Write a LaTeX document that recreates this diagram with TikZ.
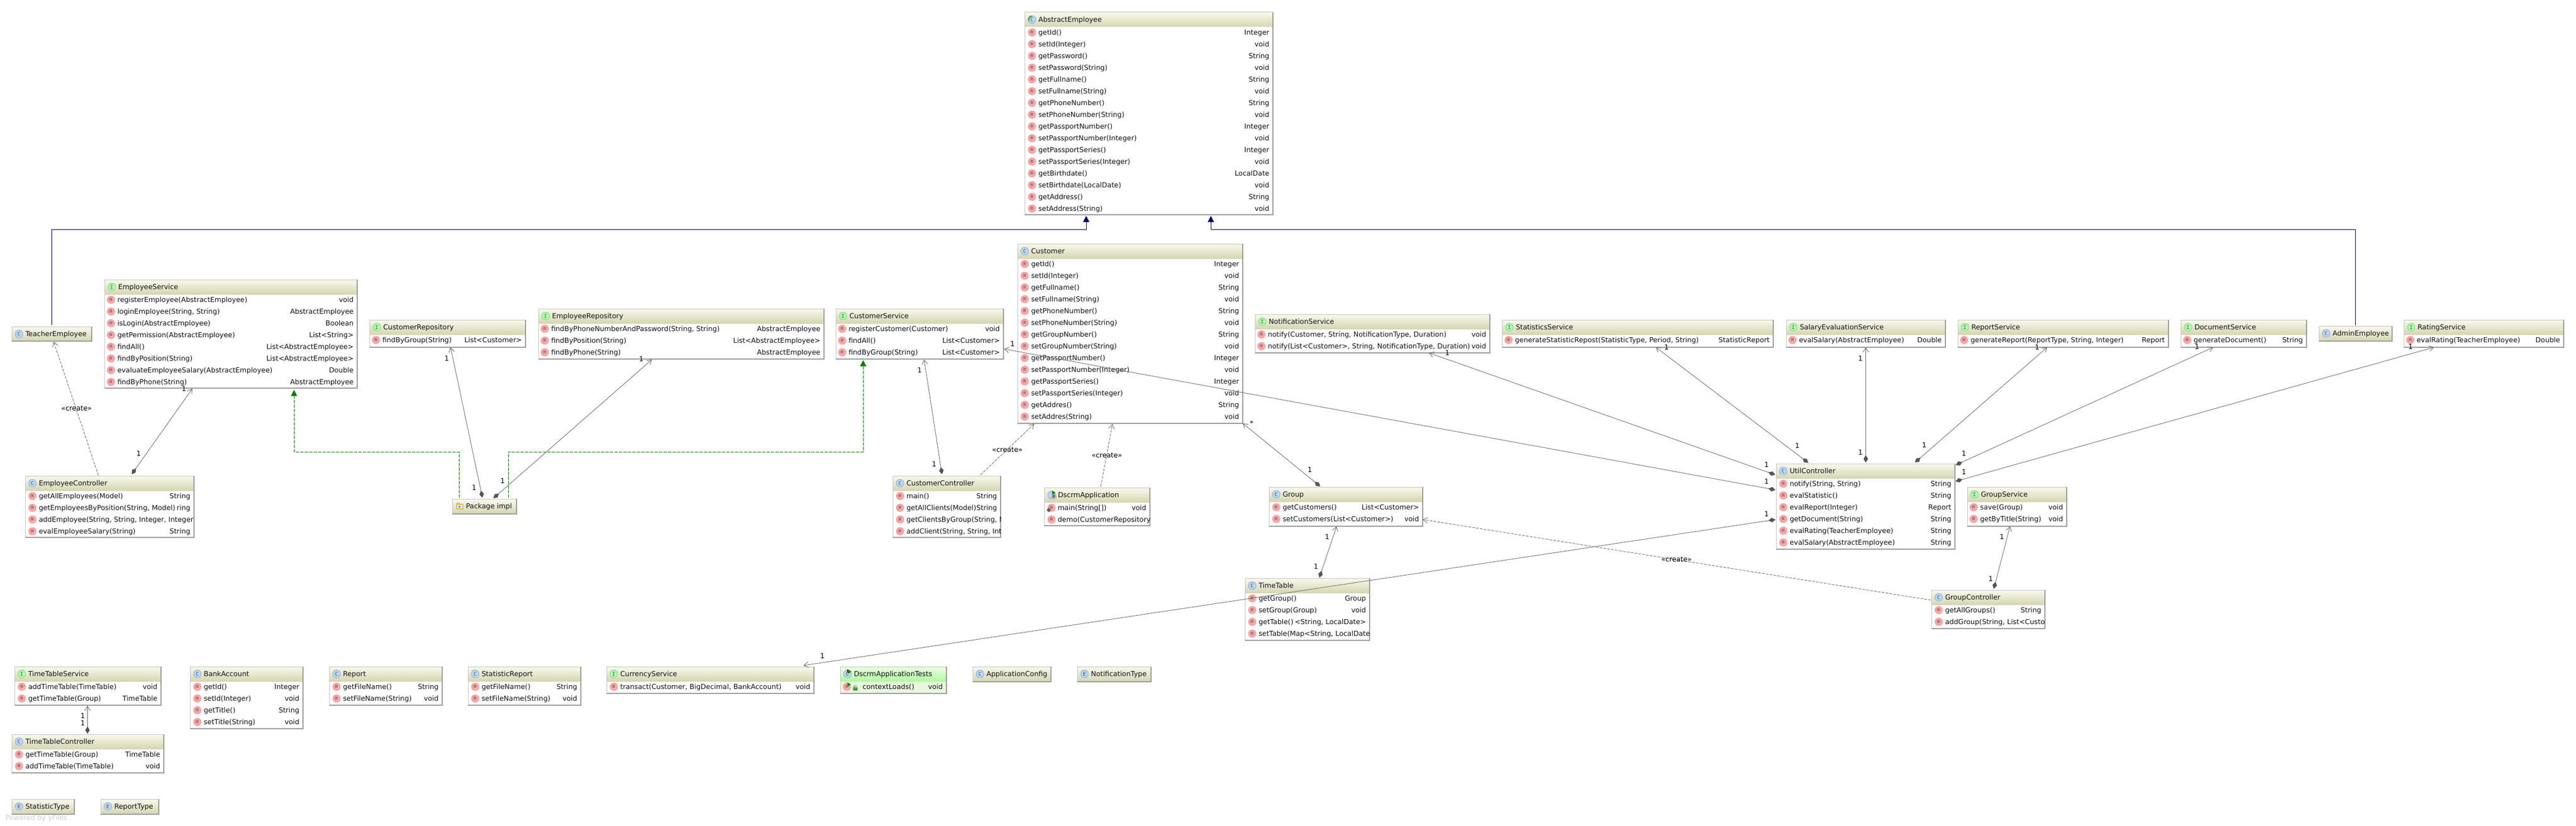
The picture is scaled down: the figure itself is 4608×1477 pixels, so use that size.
\documentclass[tikz,border=0pt]{standalone}
\usepackage{fontspec}
\setmainfont{DejaVu Sans}
\newfontfamily\icofont{DejaVu Sans Mono}
\usetikzlibrary{arrows.meta,calc}
\definecolor{hdtop}{HTML}{F9F9EC}
\definecolor{hdbot}{HTML}{D6D6B2}
\definecolor{frlight}{HTML}{C4C4C4}
\definecolor{frdark}{HTML}{9C9C9C}
\definecolor{txt}{HTML}{101018}
\definecolor{lnk}{HTML}{6A6A6A}
\definecolor{dia}{HTML}{555555}
\definecolor{inhc}{HTML}{000080}
\definecolor{impc}{HTML}{008000}
\definecolor{tsttop}{HTML}{ECFFE4}
\definecolor{tstbot}{HTML}{B0F8A0}
\definecolor{tstbody}{HTML}{E8F8DC}
\tikzset{
  x=1pt,y=-1pt,
  boxframe/.style={fill=white,draw=none,rectangle,inner sep=0pt,outer sep=0pt},
  rowtxt/.style={inner sep=0pt,outer sep=0pt,text=txt,font=\fontsize{12.4}{15}\selectfont},
  lbl/.style={inner sep=0pt,outer sep=0pt,text=black,font=\fontsize{12.4}{15}\selectfont},
  ico/.style={circle,inner sep=0pt,outer sep=0pt,minimum size=14pt,line width=.8pt,text=black!75,font=\icofont\fontsize{8.5}{8.5}\selectfont},
  icoclass/.style={ico,draw=blue!30!cyan!50!black!45,inner color=cyan!20!blue!20,outer color=cyan!45!blue!32},
  icoiface/.style={ico,draw=green!50!black!40,inner color=green!22,outer color=green!42},
  icometh/.style={ico,draw=red!30,inner color=red!25,outer color=red!42},
  assocline/.style={line width=.85pt,draw=lnk,{Diamond[length=13pt,width=8pt,fill=dia,color=dia]}-{Straight Barb[length=8pt,width=10pt]}},
  depline/.style={line width=.85pt,draw=lnk,dash pattern=on 5pt off 2pt,-{Straight Barb[length=8pt,width=10pt]}},
  inhline/.style={line width=.9pt,draw=inhc,-{Triangle[length=11pt,width=11pt,fill=inhc,color=inhc]}},
  implline/.style={line width=.85pt,draw=impc,dash pattern=on 6pt off 2pt,-{Triangle[length=11pt,width=11pt,fill=impc,color=impc]}},
}
% header icons: name, x, y
\newcommand{\icoC}[3]{\node[icoclass] (#1) at (#2,#3) {C};}
\newcommand{\icoI}[3]{\node[icoiface] (#1) at (#2,#3) {I};}
\newcommand{\icoE}[3]{\node[icoclass] (#1) at (#2,#3) {E};}
\newcommand{\icoA}[3]{\node[icoclass] (#1) at (#2,#3) {C};
  \draw[line width=2pt,color=green!60!black!85] ($(#2,#3)+(0,-6)$) arc[start angle=90,end angle=205,radius=6pt];}
\newcommand{\playmark}[2]{\fill[green!55!black] (#1+1,#2-8) -- (#1+7,#2-4) -- (#1+1,#2) -- cycle;}
\newcommand{\icoD}[3]{\node[icoclass] (#1) at (#2,#3) {};
  \playmark{#2}{#3}
  \node[circle,inner sep=0pt,minimum size=9pt,fill=gray!55,draw=gray!75,text=black,font=\icofont\fontsize{6.5}{6.5}\selectfont] (#1-at) at (#2+4,#3+3) {@};}
\newcommand{\icoT}[3]{\node[icoclass] (#1) at (#2,#3) {C};
  \fill[red!75!black] (#2-1,#3-8) -- (#2+1,#3-8) -- (#2+1,#3-2) -- (#2-1,#3-2) -- cycle;
  \playmark{#2}{#3}}
\newcommand{\icoP}[3]{%
  \fill[brown!70!yellow!75] (#2-6,#3-6) rectangle (#2+1,#3-3);
  \fill[brown!70!yellow!75] (#2-6,#3-4) rectangle (#2+7,#3+6);
  \fill[white] (#2-4,#3-2) rectangle (#2+5,#3+4);
  \fill[cyan!60!blue!70] (#2,#3+1) circle[radius=2pt];}
% box: name x0 y0 x1 y1 kind title
\newcommand{\umlbox}[7]{%
  \node[boxframe,minimum width={(#4-#2)*1pt},minimum height={(#5-#3)*1pt}] (#1) at ({(#2+#4)/2},{(#3+#5)/2}) {};
  \pgfmathsetmacro{\hdbottom}{min(#5,#3+26)}
  \shade[top color=hdtop,bottom color=hdbot] (#2,#3) rectangle (#4,\hdbottom);
  \csname ico#6\endcsname{#1-icon}{#2+13}{#3+13}
  \node[rowtxt,anchor=base west] (#1-title) at (#2+24.5,#3+17.5) {#7};
  \draw[frlight,line width=1pt] (#1.south west) -- (#1.north west) -- (#1.north east);
  \draw[frdark,line width=1.3pt] (#1.north east) -- (#1.south east) -- (#1.south west);
}
% rows: name x0 y0 x1 y1 iconoffset textoffset list
\newcommand{\umlrows}[8]{%
  \begin{scope}
  \clip (#2,#3) rectangle (#4,#5);
  \foreach \rowL/\rowR [count=\rowI] in {#8} {
    \pgfmathsetmacro{\rowY}{#3+40.5+21*(\rowI-1)}
    \pgfmathsetmacro{\rowC}{#3+36+21*(\rowI-1)}
    \node[icometh] (#1-m\rowI) at (#2+#6,\rowC) {m};
    \node[rowtxt,anchor=base west] (#1-l\rowI) at (#2+#7,\rowY) {\rowL};
    \node[rowtxt,anchor=base east] (#1-r\rowI) at (#4-6.5,\rowY) {\rowR};
  }
  \end{scope}
}
\begin{document}
\begin{tikzpicture}
\useasboundingbox (0,0) rectangle (4608,1477);
\fill[white] (0,0) rectangle (4608,1477);

\umlbox{ae}{1833}{22}{2277}{384}{A}{AbstractEmployee}
\umlrows{ae}{1833}{22}{2277}{384}{13}{24.5}{getId()/Integer,{setId(Integer)}/void,getPassword()/String,{setPassword(String)}/void,getFullname()/String,{setFullname(String)}/void,getPhoneNumber()/String,{setPhoneNumber(String)}/void,getPassportNumber()/Integer,{setPassportNumber(Integer)}/void,getPassportSeries()/Integer,{setPassportSeries(Integer)}/void,getBirthdate()/LocalDate,{setBirthdate(LocalDate)}/void,getAddress()/String,{setAddress(String)}/void}

\umlbox{te}{21}{584}{164}{610}{C}{TeacherEmployee}

\umlbox{es}{187}{500}{639}{694}{I}{EmployeeService}
\umlrows{es}{187}{500}{639}{694}{11.5}{23}{{registerEmployee(AbstractEmployee)}/void,{loginEmployee(String, String)}/AbstractEmployee,{isLogin(AbstractEmployee)}/Boolean,{getPermission(AbstractEmployee)}/{List<String>},findAll()/{List<AbstractEmployee>},{findByPosition(String)}/{List<AbstractEmployee>},{evaluateEmployeeSalary(AbstractEmployee)}/Double,{findByPhone(String)}/AbstractEmployee}

\umlbox{ec}{45}{851}{347}{961}{C}{EmployeeController}
\umlrows{ec}{45}{851}{347}{961}{13}{24.5}{{getAllEmployees(Model)}/String,{getEmployeesByPosition(String, Model)}/{ring},{addEmployee(String, String, Integer, Integer}/{},{evalEmployeeSalary(String)}/String}

\umlbox{crepo}{661}{572}{940}{621}{I}{CustomerRepository}
\umlrows{crepo}{661}{572}{940}{621}{11.5}{23}{{findByGroup(String)}/{List<Customer>}}

\umlbox{erepo}{963}{552}{1474}{642}{I}{EmployeeRepository}
\umlrows{erepo}{963}{552}{1474}{642}{11.5}{23}{{findByPhoneNumberAndPassword(String, String)}/AbstractEmployee,{findByPosition(String)}/{List<AbstractEmployee>},{findByPhone(String)}/AbstractEmployee}

\umlbox{pkg}{809}{892}{924}{919}{P}{Package impl}

\umlbox{cs}{1495}{552}{1795}{642}{I}{CustomerService}
\umlrows{cs}{1495}{552}{1795}{642}{11.5}{23}{{registerCustomer(Customer)}/void,findAll()/{List<Customer>},{findByGroup(String)}/{List<Customer>}}

\umlbox{cust}{1820}{436}{2223}{757}{C}{Customer}
\umlrows{cust}{1820}{436}{2223}{757}{13}{24.5}{getId()/Integer,{setId(Integer)}/void,getFullname()/String,{setFullname(String)}/void,getPhoneNumber()/String,{setPhoneNumber(String)}/void,getGroupNumber()/String,{setGroupNumber(String)}/void,getPassportNumber()/Integer,{setPassportNumber(Integer)}/void,getPassportSeries()/Integer,{setPassportSeries(Integer)}/void,getAddres()/String,{setAddres(String)}/void}

\umlbox{cc}{1597}{851}{1790}{961}{C}{CustomerController}
\umlrows{cc}{1597}{851}{1790}{961}{13}{24.5}{main()/String,{getAllClients(Model)}/String,{getClientsByGroup(String, M}/{},{addClient(String, String, Int}/{}}

\umlbox{da}{1868}{872}{2057}{940}{D}{DscrmApplication}
\umlrows{da}{1868}{872}{2057}{940}{13}{24}{{main(String[])}/void,{demo(CustomerRepository}/{}}
\fill[gray!75!black] (1876,908) -- (1880,912) -- (1876,916) -- (1872,912) -- cycle;

\umlbox{ns}{2245}{562}{2665}{631}{I}{NotificationService}
\umlrows{ns}{2245}{562}{2665}{631}{11.5}{23}{{notify(Customer, String, NotificationType, Duration)}/void,{notify(List<Customer>, String, NotificationType, Duration)}/void}

\umlbox{ss}{2687}{572}{3172}{621}{I}{StatisticsService}
\umlrows{ss}{2687}{572}{3172}{621}{11.5}{23}{{generateStatisticRepost(StatisticType, Period, String)}/StatisticReport}

\umlbox{ses}{3195}{572}{3480}{621}{I}{SalaryEvaluationService}
\umlrows{ses}{3195}{572}{3480}{621}{11.5}{23}{{evalSalary(AbstractEmployee)}/Double}

\umlbox{rs}{3502}{572}{3879}{621}{I}{ReportService}
\umlrows{rs}{3502}{572}{3879}{621}{11.5}{23}{{generateReport(ReportType, String, Integer)}/Report}

\umlbox{ds}{3901}{572}{4126}{621}{I}{DocumentService}
\umlrows{ds}{3901}{572}{4126}{621}{11.5}{23}{generateDocument()/String}

\umlbox{adm}{4148}{583}{4279}{610}{C}{AdminEmployee}

\umlbox{rat}{4300}{572}{4586}{621}{I}{RatingService}
\umlrows{rat}{4300}{572}{4586}{621}{11.5}{23}{{evalRating(TeacherEmployee)}/Double}

\umlbox{uc}{3177}{829}{3497}{982}{C}{UtilController}
\umlrows{uc}{3177}{829}{3497}{982}{13}{24.5}{{notify(String, String)}/String,evalStatistic()/String,{evalReport(Integer)}/Report,{getDocument(String)}/String,{evalRating(TeacherEmployee)}/String,{evalSalary(AbstractEmployee)}/String}

\umlbox{grp}{2270}{871}{2545}{941}{C}{Group}
\umlrows{grp}{2270}{871}{2545}{941}{13}{24.5}{getCustomers()/{List<Customer>},{setCustomers(List<Customer>)}/void}

\umlbox{gs}{3519}{871}{3697}{941}{I}{GroupService}
\umlrows{gs}{3519}{871}{3697}{941}{11.5}{23}{{save(Group)}/void,{getByTitle(String)}/void}

\umlbox{gc}{3455}{1055}{3658}{1124}{C}{GroupController}
\umlrows{gc}{3455}{1055}{3658}{1124}{13}{24.5}{getAllGroups()/String,{addGroup(String, List<Custo}/{}}

\umlbox{tt}{2227}{1034}{2450}{1145}{C}{TimeTable}
\umlrows{tt}{2227}{1034}{2450}{1145}{13}{24.5}{getGroup()/Group,{setGroup(Group)}/void,getTable()/{<String, LocalDate>},{setTable(Map<String, LocalDate}/{}}

\umlbox{tts}{26}{1192}{288}{1261}{I}{TimeTableService}
\umlrows{tts}{26}{1192}{288}{1261}{13}{24.5}{{addTimeTable(TimeTable)}/void,{getTimeTable(Group)}/TimeTable}

\umlbox{ba}{340}{1192}{542}{1303}{C}{BankAccount}
\umlrows{ba}{340}{1192}{542}{1303}{13}{24.5}{getId()/Integer,{setId(Integer)}/void,getTitle()/String,{setTitle(String)}/void}

\umlbox{rep}{589}{1192}{791}{1261}{C}{Report}
\umlrows{rep}{589}{1192}{791}{1261}{13}{24.5}{getFileName()/String,{setFileName(String)}/void}

\umlbox{sr}{837}{1192}{1039}{1261}{C}{StatisticReport}
\umlrows{sr}{837}{1192}{1039}{1261}{13}{24.5}{getFileName()/String,{setFileName(String)}/void}

\umlbox{cur}{1085}{1192}{1456}{1240}{I}{CurrencyService}
\umlrows{cur}{1085}{1192}{1456}{1240}{13}{24.5}{{transact(Customer, BigDecimal, BankAccount)}/void}

% test class: green variant
\node[boxframe,fill=tstbody,minimum width=190pt,minimum height=48pt] (tests) at (1598,1216) {};
\shade[top color=tsttop,bottom color=tstbot] (1503,1192) rectangle (1693,1218);
\icoT{tests-icon}{1516}{1205}
\node[rowtxt,anchor=base west] (tests-title) at (1527.5,1209.5) {DscrmApplicationTests};
\node[icometh] (tests-m1) at (1515,1228) {m};
\playmark{1515}{1228}
\fill[green!45!black!70] (1526,1229) rectangle (1534,1235);
\draw[green!45!black!70,line width=1pt] (1527.5,1229) -- (1527.5,1226) -- (1532.5,1226);
\node[rowtxt,anchor=base west] (tests-l1) at (1543,1232.5) {contextLoads()};
\node[rowtxt,anchor=base east] (tests-r1) at (1686.5,1232.5) {void};
\draw[frlight,line width=1pt] (tests.south west) -- (tests.north west) -- (tests.north east);
\draw[frdark,line width=1.3pt] (tests.north east) -- (tests.south east) -- (tests.south west);

\umlbox{cfg}{1740}{1192}{1880}{1219}{C}{ApplicationConfig}
\umlbox{nt}{1927}{1192}{2059}{1219}{E}{NotificationType}

\umlbox{ttc}{21}{1313}{293}{1382}{C}{TimeTableController}
\umlrows{ttc}{21}{1313}{293}{1382}{13}{24.5}{{getTimeTable(Group)}/TimeTable,{addTimeTable(TimeTable)}/void}

\umlbox{st}{21}{1429}{133}{1456}{E}{StatisticType}
\umlbox{rt}{180}{1429}{284}{1456}{E}{ReportType}

\node[anchor=base west,inner sep=0pt,text=gray!38,font=\fontsize{12.4}{15}\selectfont] (yf) at (10,1466) {Powered by yFiles};

% inheritance
\coordinate (inhR) at (2166,410);
\coordinate (inhL) at (1943,410);
\draw[inhline] ([shift={(65,-1)}]adm.north west) |- (inhR) -- ([shift={(333,364)}]ae.north west);
\draw[inhline] ([shift={(71,-3)}]te.north west) |- (inhL) -- ([shift={(110,364)}]ae.north west);

% realisation
\coordinate (impL) at (526,808);
\coordinate (impR) at (1544,808);
\draw[implline] ([shift={(12,-2)}]pkg.north west) |- (impL) -- ([shift={(339,197)}]es.north west);
\draw[implline] ([shift={(100,-2)}]pkg.north west) |- (impR) -- ([shift={(49,92)}]cs.north west);

% associations
\draw[assocline] ([shift={(190.6,-3)}]ec.north west) -- ([shift={(157,195)}]es.north west);
\draw[assocline] ([shift={(54,-2)}]pkg.north west) -- ([shift={(145,49)}]crepo.north west);
\draw[assocline] ([shift={(73.5,-1)}]pkg.north west) -- ([shift={(203,91)}]erepo.north west);
\draw[assocline] ([shift={(88,-3)}]cc.north west) -- ([shift={(158,91)}]cs.north west);
\draw[assocline] ([shift={(91.7,-1.2)}]grp.north west) -- ([shift={(403,321)}]cust.north west);
\draw[assocline] ([shift={(-1.4,20)}]uc.north west) -- ([shift={(311,69)}]ns.north west);
\draw[assocline] ([shift={(57.8,-1.4)}]uc.north west) -- ([shift={(275,49)}]ss.north west);
\draw[assocline] ([shift={(-1,47)}]uc.north west) -- ([shift={(301,72)}]cs.north west);
\draw[assocline] ([shift={(-1,100)}]uc.north west) -- ([shift={(352,-2)}]cur.north west);
\draw[assocline] ([shift={(160.5,-2)}]uc.north west) -- ([shift={(142.5,49)}]ses.north west);
\draw[assocline] ([shift={(248.5,-2)}]uc.north west) -- ([shift={(160,49)}]rs.north west);
\draw[assocline] ([shift={(321.5,2.5)}]uc.north west) -- ([shift={(58,49)}]ds.north west);
\draw[assocline] ([shift={(321,31.6)}]uc.north west) -- ([shift={(54,49)}]rat.north west);
\draw[assocline] ([shift={(111.5,-2)}]gc.north west) -- ([shift={(76.5,70)}]gs.north west);
\draw[assocline] ([shift={(133,-1)}]tt.north west) -- ([shift={(121,70)}]grp.north west);
\draw[assocline] ([shift={(135.5,-1)}]ttc.north west) -- ([shift={(130.5,70)}]tts.north west);

% dependencies
\draw[depline] ([shift={(131,-1)}]ec.north west) -- ([shift={(75,27)}]te.north west);
\draw[depline] ([shift={(157,-2)}]cc.north west) -- ([shift={(30,322)}]cust.north west);
\draw[depline] ([shift={(101,-2)}]da.north west) -- ([shift={(170,322)}]cust.north west);
\draw[depline] ([shift={(-1,18)}]gc.north west) -- ([shift={(275,58)}]grp.north west);

% stereotype labels
\node[lbl] (c1) at (137,730) {«create»};
\node[lbl] (c2) at (1802,804) {«create»};
\node[lbl] (c3) at (1980,814) {«create»};
\node[lbl] (c4) at (2999,1000) {«create»};

% multiplicities
\foreach \mx/\my [count=\mi] in {329/695,248/811,799/641,848/872,1147/642,899/860,1811/615,1645/662,1671/830,2343/840,2589/631,3160/831,2981/621,3215/797,3160/861,3160/919,1471/1173,3328/641,3328/809,3644/621,3442/796,3930/620,3513/811,4312/620,3513/844,3581/960,3561/1035,2374/960,2354/1013,148/1280,148/1293}
  \node[lbl] (mult\mi) at (\mx,\my) {1};
\node[lbl] (multstar) at (2239,757) {*};
\end{tikzpicture}
\end{document}
